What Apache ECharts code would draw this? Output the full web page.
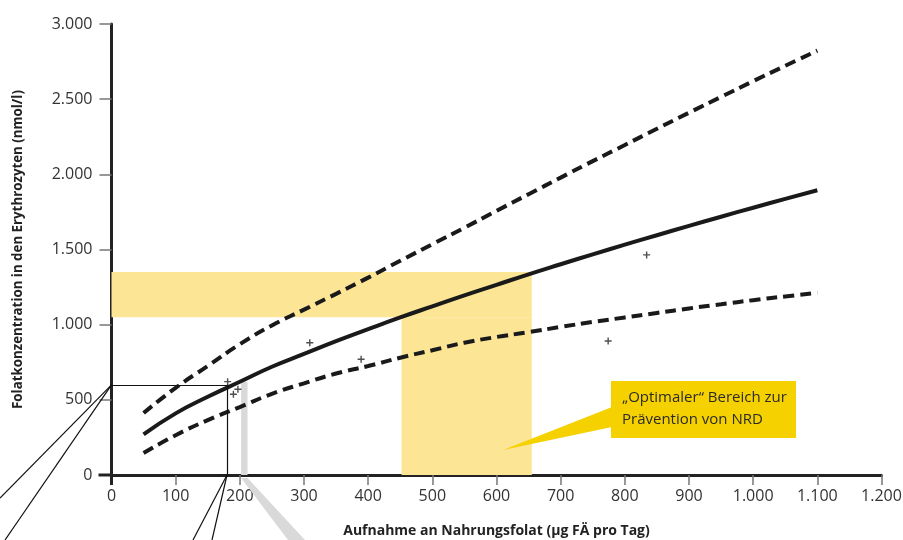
<!DOCTYPE html>
<html>
<head>
<meta charset="utf-8">
<script src="https://cdn.jsdelivr.net/npm/echarts@6/dist/echarts.min.js"></script>
<style>
html,body{margin:0;padding:0;background:#fff;}
#chart{width:903px;height:540px;}
</style>
</head>
<body>
<div id="chart"></div>
<script>
// Folataufnahme (x) gegen Folat in Erythrozyten (y)
var intake = [50,100,150,200,250,300,350,400,450,500,550,600,650,700,750,800,850,900,950,1000,1050,1100];
var mittel = [270,410,520,620,720,805,890,970,1048,1122,1195,1265,1335,1402,1468,1532,1595,1657,1718,1778,1837,1894];
var oben   = [412,580,725,870,995,1100,1205,1313,1425,1535,1645,1757,1868,1978,2088,2195,2303,2410,2515,2620,2722,2823];
var unten  = [146,265,365,452,540,610,675,725,780,830,880,918,950,985,1018,1048,1078,1108,1136,1163,1188,1211];

var messX = [181,190,197,309,389,774,834];
var messY = [621,537,570,880,770,891,1464];

var bandY = [1050,1350];     // optimaler Bereich Folatkonzentration
var bandX = [452,655];       // entsprechende Aufnahme
var boxX = 180, boxY = 600;  // Ausschnitt unten links
var greyX = [202,212], greyTop = 620;

var xTicks = [0,100,200,300,400,500,600,700,800,900,1000,1100,1200];
var yTicks = [0,500,1000,1500,2000,2500,3000];

function fmt(v){
	var s = String(v);
	if(s.length > 3) s = s.slice(0,s.length-3) + '.' + s.slice(s.length-3);
	return s;
}
function pairs(xa, ya){
	var out = [];
	for(var i=0;i<xa.length;i++) out.push([xa[i], ya[i]]);
	return out;
}

var chart = echarts.init(document.getElementById('chart'));
var font = '"Open Sans", "Noto Sans", sans-serif';

var option = {
	animation: false,
	textStyle: { fontFamily: font },
	grid: { left: 111.5, right: 21.5, top: 24, bottom: 65, containLabel: false, outerBoundsMode: 'none' },
	xAxis: {
		type: 'value', min: xTicks[0], max: xTicks[xTicks.length-1], interval: 100,
		name: 'Aufnahme an Nahrungsfolat (µg FÄ pro Tag)',
		nameLocation: 'middle', nameGap: 49,
		nameTextStyle: { fontSize: 14, fontWeight: 'bold', color: '#222', fontFamily: font },
		axisLine: { show: true, onZero: false, lineStyle: { color: '#222', width: 3 } },
		axisTick: { show: true, length: 10, lineStyle: { color: '#777', width: 1.5 } },
		axisLabel: { margin: 13, fontSize: 16, color: '#333', fontFamily: font, formatter: fmt },
		splitLine: { show: false }
	},
	yAxis: {
		type: 'value', min: yTicks[0], max: yTicks[yTicks.length-1], interval: 500,
		name: 'Folatkonzentration in den Erythrozyten (nmol/l)',
		nameLocation: 'middle', nameGap: 87,
		nameTextStyle: { fontSize: 13.3, fontWeight: 'bold', color: '#222', fontFamily: font },
		axisLine: { show: true, onZero: false, lineStyle: { color: '#222', width: 3 } },
		axisTick: { show: true, length: 12, lineStyle: { color: '#777', width: 1.5 } },
		axisLabel: { margin: 19, fontSize: 16, color: '#333', fontFamily: font, formatter: fmt },
		splitLine: { show: false }
	},
	series: [
		{
			// Flaechen und Hilfslinien
			type: 'line', data: [], z: 1, silent: true,
			markArea: {
				silent: true,
				data: [
					[{ xAxis: 0, yAxis: bandY[0], itemStyle: { color: '#fce696' } }, { xAxis: bandX[1], yAxis: bandY[1] }],
					[{ xAxis: bandX[0], yAxis: 0, itemStyle: { color: '#fce696' } }, { xAxis: bandX[1], yAxis: bandY[0] }],
					[{ xAxis: greyX[0], yAxis: 0, itemStyle: { color: '#d9d9d9' } }, { xAxis: greyX[1], yAxis: greyTop }]
				]
			}
		},
		{
			type: 'line', name: 'oben', data: pairs(intake, oben), smooth: true, showSymbol: false, z: 3,
			lineStyle: { color: '#1a1a1a', width: 4, type: [11, 6] }
		},
		{
			type: 'line', name: 'mittel', data: pairs(intake, mittel), smooth: true, showSymbol: false, z: 3,
			lineStyle: { color: '#1a1a1a', width: 4 }
		},
		{
			type: 'line', name: 'unten', data: pairs(intake, unten), smooth: true, showSymbol: false, z: 3,
			lineStyle: { color: '#1a1a1a', width: 4, type: [11, 6] }
		},
		{
			type: 'scatter', name: 'Messwerte', data: pairs(messX, messY), z: 4,
			symbol: 'path://M4,0h2v4h4v2h-4v4h-2v-4h-4v-2h4z', symbolSize: 7,
			itemStyle: { color: '#222' },
			markLine: {
				silent: true, symbol: 'none', label: { show: false },
				lineStyle: { color: '#111', width: 1.2, type: 'solid' },
				data: [
					[{ coord: [0, boxY] }, { coord: [boxX, boxY] }],
					[{ coord: [boxX, boxY] }, { coord: [boxX, 0] }]
				]
			}
		}
	]
};
chart.setOption(option);

// Zusatzgrafik: Verbindungslinien, grauer Keil, Sprechblase
var pO = chart.convertToPixel({ gridIndex: 0 }, [0, 0]);
var pCorner = chart.convertToPixel({ gridIndex: 0 }, [0, boxY]);
var pFoot = chart.convertToPixel({ gridIndex: 0 }, [boxX, 0]);
var pG0 = chart.convertToPixel({ gridIndex: 0 }, [greyX[0], 0]);
var pG1 = chart.convertToPixel({ gridIndex: 0 }, [greyX[1], 0]);
var thin = { stroke: '#111', lineWidth: 1.2 };

chart.setOption({
	graphic: [
		// Achsenkreuz leicht ueberstehend
		{ type: 'line', z: 50, shape: { x1: pO[0] - 13, y1: pO[1], x2: pO[0], y2: pO[1] }, style: { stroke: '#222', lineWidth: 3 }, silent: true },
		{ type: 'line', z: 50, shape: { x1: pO[0], y1: pO[1], x2: pO[0], y2: pO[1] + 10 }, style: { stroke: '#222', lineWidth: 3 }, silent: true },
		{ type: 'line', z: 50, shape: { x1: pCorner[0], y1: pCorner[1], x2: 0, y2: 498 }, style: thin, silent: true },
		{ type: 'line', z: 50, shape: { x1: pCorner[0], y1: pCorner[1], x2: 5, y2: 540 }, style: thin, silent: true },
		{ type: 'line', z: 50, shape: { x1: pFoot[0], y1: pFoot[1], x2: 193, y2: 540 }, style: thin, silent: true },
		{ type: 'line', z: 50, shape: { x1: pFoot[0], y1: pFoot[1], x2: 212, y2: 540 }, style: thin, silent: true },
		{ type: 'polygon', z: 40, shape: { points: [[pG0[0], pG0[1] + 3], [pG1[0], pG1[1] + 3], [305, 540], [288, 540]] }, style: { fill: '#d9d9d9' }, silent: true },
		{ type: 'polygon', z: 60, shape: { points: [[612, 407], [503, 450], [612, 427]] }, style: { fill: '#f6d100' }, silent: true },
		{ type: 'rect', z: 60, shape: { x: 611, y: 381, width: 185, height: 57 }, style: { fill: '#f6d100' }, silent: true },
		{ type: 'text', z: 61, x: 622, y: 398, style: { text: '„Optimaler“ Bereich zur', font: '15px ' + font, fill: '#2a2a2a', verticalAlign: 'middle' }, silent: true },
		{ type: 'text', z: 61, x: 622, y: 420, style: { text: 'Prävention von NRD', font: '15px ' + font, fill: '#2a2a2a', verticalAlign: 'middle' }, silent: true }
	]
});
</script>
</body>
</html>
